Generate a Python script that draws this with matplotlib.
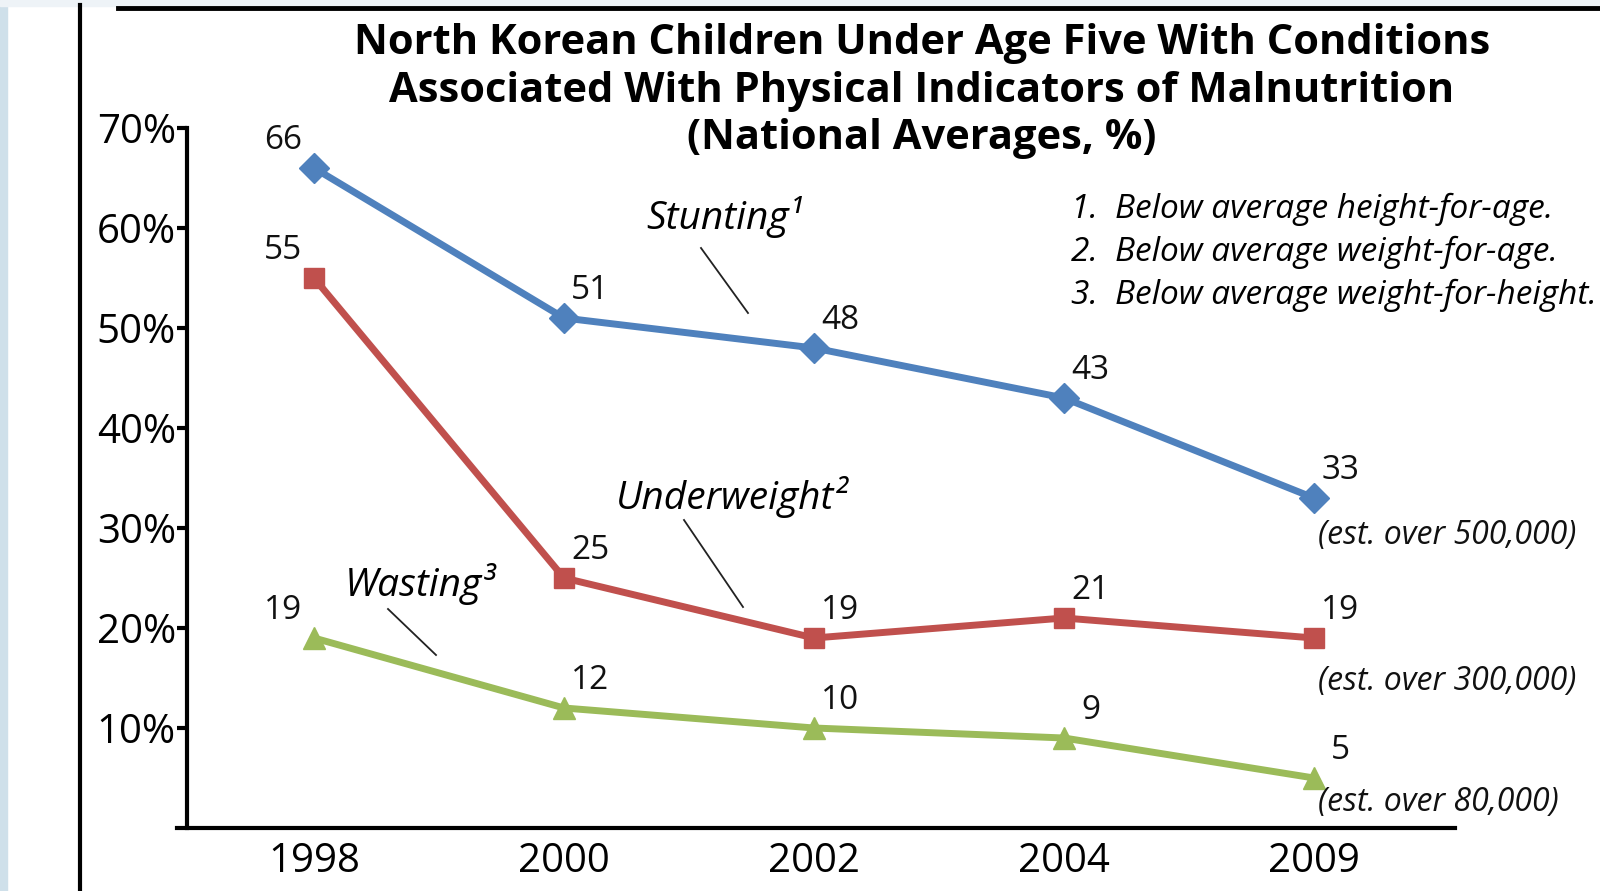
import matplotlib
matplotlib.use("Agg")
import matplotlib.pyplot as plt
from matplotlib.patches import Rectangle
from matplotlib.lines import Line2D

plt.rcParams['font.family'] = ['Open Sans', 'DejaVu Sans']

# data
years = ["1998", "2000", "2002", "2004", "2009"]
stunting = [66, 51, 48, 43, 33]
underweight = [55, 25, 19, 21, 19]
wasting = [19, 12, 10, 9, 5]
estimates = ["(est. over 500,000)", "(est. over 300,000)", "(est. over 80,000)"]
footnotes = ["1.  Below average height-for-age.",
             "2.  Below average weight-for-age.",
             "3.  Below average weight-for-height."]
y_ticks = [10, 20, 30, 40, 50, 60, 70]

fig = plt.figure(figsize=(16, 8.91), dpi=100)
ax = fig.add_axes([187/1600, 1-828/891, 1268/1600, 700/891])

x = list(range(len(years)))
series = [(stunting, '#4F81BD', 'D', 15), (underweight, '#C0504D', 's', 15), (wasting, '#9BBB59', '^', 16)]
for vals, col, mk, ms in series:
    ax.plot(x, vals, color=col, lw=5, marker=mk, ms=ms, clip_on=False, zorder=3)
    for i, v in enumerate(vals):
        if i == 0:
            off = (-22, 20)
        else:
            off = (19, 20)
        ax.annotate(str(v), (i, v), xytext=off, textcoords='offset points',
                    ha='center', va='center', fontsize=24, color='#111111')

# estimate notes under last point
est_off = [-27, -31, -18]
for (vals, col, mk, ms), txt, dy in zip(series, estimates, est_off):
    ax.annotate(txt, (x[-1], vals[-1]), xytext=(3, dy), textcoords='offset points',
                ha='left', va='center', fontsize=23, style='italic', color='#111111',
                annotation_clip=False)

# series names with leader lines
ax.text(1.64, 61.1, "Stunting¹", fontsize=28, style='italic', ha='center', va='center')
ax.plot([1.548, 1.736], [58.0, 51.5], color='#222222', lw=1.3)
ax.text(1.672, 33.1, "Underweight²", fontsize=28, style='italic', ha='center', va='center')
ax.plot([1.48, 1.716], [30.8, 22.1], color='#222222', lw=1.3)
ax.text(0.424, 24.4, "Wasting³", fontsize=28, style='italic', ha='center', va='center')
ax.plot([0.296, 0.488], [21.9, 17.3], color='#222222', lw=1.3)

ax.set_xlim(-0.508, 4.564)
ax.set_ylim(0, 70)
ax.set_yticks(y_ticks)
ax.set_yticklabels([f"{t}%" for t in y_ticks], fontsize=29)
ax.set_xticks(x)
ax.set_xticklabels(years, fontsize=29)
ax.tick_params(axis='x', length=0, pad=10)
ax.tick_params(axis='y', length=7, width=3, pad=1)
for s in ['top', 'right']:
    ax.spines[s].set_visible(False)
ax.spines['left'].set_linewidth(3)
ax.spines['bottom'].set_linewidth(3)
ax.spines['bottom'].set_bounds(-0.548, 4.564)

# title and footnotes
fig.text(922/1600, 1-91/891, "North Korean Children Under Age Five With Conditions\n"
         "Associated With Physical Indicators of Malnutrition\n(National Averages, %)",
         ha='center', va='center', fontsize=30, fontweight='bold', linespacing=1.22)
for k, f in enumerate(footnotes):
    fig.text(1071/1600, 1-(209+43*k)/891, f, ha='left', va='center', fontsize=24, style='italic')

# page decorations
fig.patches.append(Rectangle((0, 0), 7/1600, 1, transform=fig.transFigure, color='#cfe0ea', zorder=0))
fig.patches.append(Rectangle((0, 1-6/891), 1, 6/891, transform=fig.transFigure, color='#eef3f7', zorder=0))
fig.lines.append(Line2D([80/1600, 80/1600], [0, 1-5/891], transform=fig.transFigure, color='black', lw=3))
fig.lines.append(Line2D([118/1600, 1], [1-8/891, 1-8/891], transform=fig.transFigure, color='black', lw=3.5))

fig.savefig("out.png", dpi=100)
